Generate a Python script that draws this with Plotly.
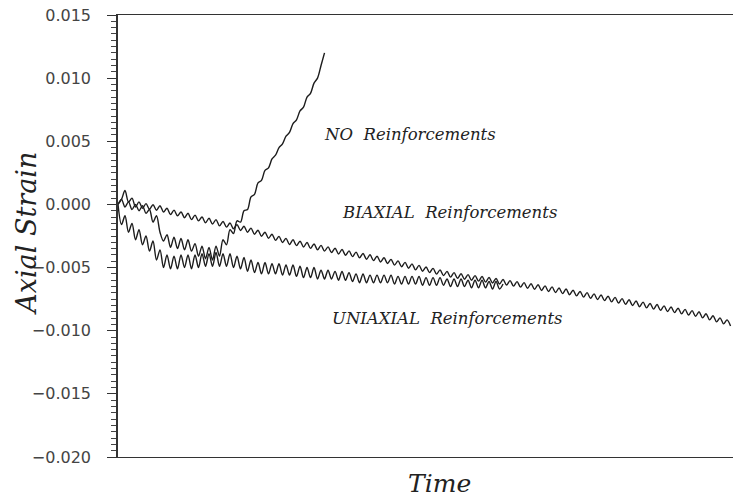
import plotly.graph_objects as go

# Axial strain, one value per half-oscillation step of time
biaxial_strain = [
    0.0, 0.0004, 0.0011, 0.0002, 0.0005, -0.0002, 0.0002, -0.0003, 0.00006, -0.00038,
    -0.00002, -0.00046, -0.0001, -0.0006, -0.0003, -0.0008, -0.00045, -0.0009, -0.0006, -0.00105,
    -0.0007, -0.0012, -0.00085, -0.0013, -0.001, -0.00145, -0.0011, -0.00155, -0.0012, -0.0017,
    -0.00135, -0.0018, -0.00147, -0.00193, -0.0016, -0.00206, -0.00173, -0.0022, -0.00188, -0.00236,
    -0.00204, -0.00252, -0.0022, -0.00268, -0.00236, -0.00285, -0.00253, -0.00301, -0.00269, -0.00317,
    -0.0028, -0.00326, -0.00291, -0.00337, -0.00302, -0.00348, -0.00313, -0.00359, -0.00324, -0.0037,
    -0.00336, -0.00381, -0.00347, -0.00392, -0.00357, -0.00402, -0.00368, -0.00413, -0.00378, -0.00423,
    -0.00389, -0.00434, -0.00399, -0.00445, -0.0041, -0.00456, -0.00422, -0.00468, -0.00435, -0.00481,
    -0.00447, -0.00493, -0.00459, -0.00505, -0.00471, -0.00518, -0.00483, -0.00529, -0.00495, -0.0054,
    -0.00506, -0.00552, -0.00518, -0.00564, -0.0053, -0.00576, -0.0054, -0.00585, -0.00549, -0.00592,
    -0.00556, -0.006, -0.00564, -0.00607, -0.00571, -0.00615, -0.00579, -0.00622, -0.00586, -0.0063,
    -0.00594, -0.00638, -0.00603, -0.00647, -0.00611, -0.00655, -0.00619, -0.00664, -0.00628, -0.00672,
    -0.00636, -0.00681, -0.00645, -0.00689, -0.00653, -0.00697, -0.00662, -0.00706, -0.0067, -0.00715,
    -0.00679, -0.00724, -0.00689, -0.00734, -0.00698, -0.00743, -0.00708, -0.00753, -0.00717, -0.00762,
    -0.00727, -0.00772, -0.00736, -0.00781, -0.00746, -0.00791, -0.00755, -0.008, -0.00765, -0.0081,
    -0.00774, -0.00819, -0.00784, -0.00829, -0.00793, -0.00838, -0.00803, -0.00848, -0.00812, -0.00857,
    -0.00822, -0.00867, -0.00831, -0.00876, -0.00841, -0.00886, -0.0085, -0.00898, -0.00866, -0.00914,
    -0.00882, -0.0093, -0.00898, -0.00946, -0.00914, -0.00962,
]

uniaxial_strain = [
    0.0, -0.0016, -0.0009, -0.0022, -0.0015, -0.0028, -0.0020, -0.0032, -0.0025, -0.0037,
    -0.0029, -0.0044, -0.0036, -0.0050, -0.0040, -0.0051, -0.0041, -0.0051, -0.0040, -0.0050,
    -0.0040, -0.0051, -0.0040, -0.0050, -0.0039, -0.0049, -0.0039, -0.0049, -0.0038, -0.0049,
    -0.0039, -0.0049, -0.0039, -0.0050, -0.0041, -0.0051, -0.0042, -0.0053, -0.0044, -0.0054,
    -0.0046, -0.0055, -0.0046, -0.0055, -0.0047, -0.0055, -0.0047, -0.0056, -0.0048, -0.0056,
    -0.0048, -0.0057, -0.0049, -0.0058, -0.0050, -0.0058, -0.0050, -0.0059, -0.0052, -0.0059,
    -0.0052, -0.0059, -0.0053, -0.0060, -0.0053, -0.0060, -0.0054, -0.0061, -0.0055, -0.0062,
    -0.0055, -0.0062, -0.0056, -0.0062, -0.0056, -0.0062, -0.0056, -0.0062, -0.0056, -0.0063,
    -0.0057, -0.0063, -0.0057, -0.0063, -0.0057, -0.0063, -0.0057, -0.0064, -0.0058, -0.0064,
    -0.0058, -0.0064, -0.0058, -0.0064, -0.0059, -0.0065, -0.0059, -0.0065, -0.0059, -0.0065,
    -0.0060, -0.0066, -0.0060, -0.0066, -0.0060, -0.0066, -0.0061, -0.0067, -0.0061, -0.0067,
    -0.0063,
]

no_reinf_strain = [
    0.0, 0.0004, -0.0002, 0.0002, -0.0004, 0.0000, -0.0005, -0.0001, -0.0007, -0.0004,
    -0.0014, -0.0009, -0.0022, -0.0029, -0.0024, -0.0034, -0.0026, -0.0035, -0.0027, -0.0036,
    -0.0028, -0.0037, -0.0031, -0.0041, -0.0033, -0.0043, -0.0034, -0.0044, -0.0033, -0.0041,
    -0.0028, -0.0032, -0.0020, -0.0023, -0.0013, -0.0014, -0.0005, -0.0004, 0.0006, 0.0008,
    0.0017, 0.0019, 0.0027, 0.0029, 0.0036, 0.0039, 0.0045, 0.0048, 0.0054, 0.0057,
    0.0064, 0.0067, 0.0074, 0.0077, 0.0085, 0.0088, 0.0096, 0.0100, 0.0110, 0.0120,
]

y_ticks = [-0.020, -0.015, -0.010, -0.005, 0.000, 0.005, 0.010, 0.015]

series = [
    ("BIAXIAL", biaxial_strain),
    ("UNIAXIAL", uniaxial_strain),
    ("NO", no_reinf_strain),
]

fig = go.Figure()
for name, vals in series:
    fig.add_trace(go.Scatter(
        x=list(range(len(vals))), y=vals, mode="lines", name=name,
        line=dict(color="#1c1c1c", width=1.4, shape="spline", smoothing=0.9),
        showlegend=False, hoverinfo="skip",
    ))

label_font = dict(family="DejaVu Serif", size=16.5, color="#222", style="italic")
labels = [
    ("NO\u00a0 Reinforcements", 58.3, 0.0055),
    ("BIAXIAL\u00a0 Reinforcements", 63.4, -0.00063),
    ("UNIAXIAL\u00a0 Reinforcements", 60.6, -0.0090),
]
for text, xv, yv in labels:
    fig.add_annotation(x=xv, y=yv, text=text, showarrow=False, xanchor="left",
                       yanchor="middle", font=label_font)

title_font = dict(family="DejaVu Serif", size=27, color="#222", style="italic")
fig.add_annotation(xref="paper", yref="paper", x=0.522, y=-0.059, text="Time",
                   showarrow=False, xanchor="center", yanchor="middle",
                   font=dict(family="DejaVu Serif", size=25, color="#222", style="italic"))
fig.add_annotation(xref="paper", yref="paper", x=-0.148, y=0.505, text="Axial Strain",
                   showarrow=False, xanchor="center", yanchor="middle", textangle=-90,
                   font=title_font)

fig.update_xaxes(range=[0, 175.7], showline=True, linecolor="#333", linewidth=1.2,
                 mirror=True, showticklabels=False, ticks="", showgrid=False,
                 zeroline=False, automargin=False)
fig.update_yaxes(range=[-0.020, 0.015], tickvals=y_ticks, tickformat=".3f",
                 showline=True, linecolor="#333", linewidth=1.5, mirror=False,
                 ticks="outside", ticklen=9, tickwidth=1.2, tickcolor="#333",
                 ticklabelstandoff=13, automargin=False,
                 minor=dict(dtick=0.0005, ticks="outside", ticklen=5, tickwidth=1,
                            tickcolor="#444", showgrid=False),
                 tickfont=dict(family="DejaVu Sans", size=16, color="#444"),
                 showgrid=False, zeroline=False)

fig.update_layout(width=733, height=498, margin=dict(l=118, r=0, t=15, b=41),
                  plot_bgcolor="white", paper_bgcolor="white")

fig.write_html("out.html", config={"displayModeBar": False},
               post_script="document.body.style.margin='0';document.body.style.overflow='hidden';")
